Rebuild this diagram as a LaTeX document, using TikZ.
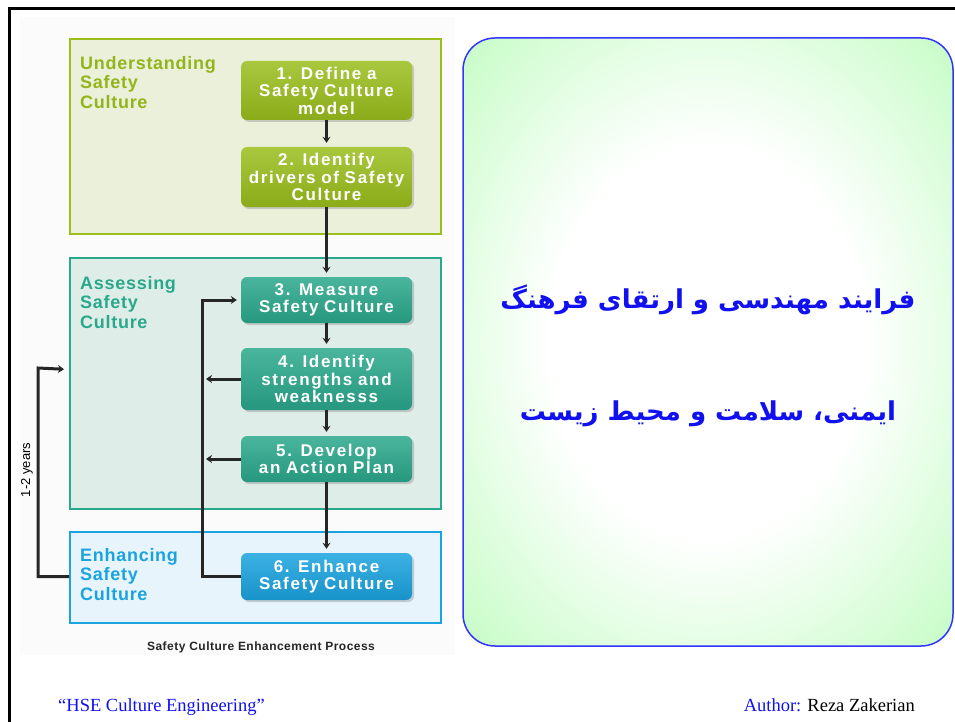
\documentclass[tikz,border=0pt]{standalone}
\usepackage{fontspec}
\setmainfont{Liberation Serif}
\setsansfont{Liberation Sans}
\newfontfamily\persianfont[Script=Arabic]{DejaVu Sans}
\newfontfamily\boxfont[LetterSpace=10]{Liberation Sans}
\newfontfamily\capfont[LetterSpace=4]{Liberation Sans}
\TeXXeTstate=1
\usetikzlibrary{arrows.meta,shadows}

\definecolor{ugreen}{HTML}{9BBE1C}
\definecolor{ugreenbg}{HTML}{EAF0DA}
\definecolor{ateal}{HTML}{2AA88C}
\definecolor{atealbg}{HTML}{DFEDE8}
\definecolor{eblue}{HTML}{1AA3DF}
\definecolor{ebluebg}{HTML}{E7F4FB}
\definecolor{panelblue}{HTML}{3333FF}
\definecolor{panelgreen}{HTML}{C4FCC4}
\definecolor{textblue}{HTML}{1010F0}

\pgfdeclareradialshading{panelglow}{\pgfpoint{0bp}{0bp}}{color(0bp)=(white); color(16bp)=(white); color(36bp)=(panelgreen); color(75bp)=(panelgreen)}

\tikzstyle{groupbox} = [anchor=north west, line width=2pt, minimum width=371pt, inner sep=0pt]
\tikzstyle{grouplabel} = [anchor=north west, align=left, inner sep=0pt, font=\capfont\bfseries\fontsize{18}{19.5}\selectfont]
\tikzstyle{stepbox} = [rounded corners=6pt, text width=167pt, inner sep=2pt, align=center, text=white, font=\boxfont\bfseries\fontsize{17}{17.5}\selectfont, drop shadow={shadow xshift=2pt, shadow yshift=-2pt, opacity=0.35}]
\tikzstyle{greenstep} = [stepbox, top color=ugreen!85!white, bottom color=ugreen!90!black]
\tikzstyle{tealstep} = [stepbox, top color=ateal!85!white, bottom color=ateal!90!black]
\tikzstyle{bluestep} = [stepbox, top color=eblue!85!white, bottom color=eblue!90!black]
\tikzstyle{flow} = [draw=black!85, line width=3pt, -{Stealth[length=6pt,width=8pt]}, shorten >=4pt]

\begin{document}
\begin{tikzpicture}[x=1pt,y=-1pt]
\useasboundingbox (0,0) rectangle (955,722);
\fill[black!1.5] (20,17) rectangle (455,655);
\draw[line width=3pt] (9,722) -- (9,9) -- (955,9);

% les trois phases
\node[groupbox, draw=ugreen, fill=ugreenbg, minimum height=195pt] (understand) at (69,38) {};
\node[groupbox, draw=ateal, fill=atealbg, minimum height=251pt] (assess) at (69,257) {};
\node[groupbox, draw=eblue, fill=ebluebg, minimum height=91pt] (enhance) at (69,531) {};
\node[grouplabel, text=ugreen!95!black] (ulabel) at (80,56) {Understanding\\Safety\\Culture};
\node[grouplabel, text=ateal] (alabel) at (80,276) {Assessing\\Safety\\Culture};
\node[grouplabel, text=eblue] (elabel) at (80,548) {Enhancing\\Safety\\Culture};

\node[greenstep, minimum height=59pt] (s1) at (326.5,90.5) {1. Define a\\Safety Culture\\model};
\node[greenstep, minimum height=60pt] (s2) at (326.5,177) {2. Identify\\drivers of Safety\\Culture};
\node[tealstep, minimum height=46pt] (s3) at (326.5,300) {3. Measure\\Safety Culture};
\node[tealstep, minimum height=62pt] (s4) at (326.5,379) {4. Identify\\strengths and\\weaknesss};
\node[tealstep, minimum height=46pt] (s5) at (326.5,459) {5. Develop\\an Action Plan};
\node[bluestep, minimum height=47pt] (s6) at (326.5,576.5) {6. Enhance\\Safety Culture};

\draw[flow] (s1) -- (s2);
\draw[flow] (s2) -- (s3);
\draw[flow] (s3) -- (s4);
\draw[flow] (s4) -- (s5);
\draw[flow] (s5) -- (s6);

\coordinate (loopx) at (202,300);
\draw[flow] (s6.west) -| (loopx) -- (s3.west);
\draw[flow] (s4.west) -- (loopx |- s4.west);
\draw[flow] (s5.west) -- (loopx |- s5.west);

\coordinate (yearx) at (38,368);
\draw[flow, shorten >=5pt] (enhance.west |- s6.west) -| (yearx) -- ([yshift=14pt]assess.west);
\node[rotate=90, font=\sffamily\fontsize{13}{15}\selectfont] (years) at (27,470) {1-2 years};

\node[font=\capfont\bfseries\fontsize{12}{14}\selectfont, text=black!85] (caption) at (261,647) {Safety Culture Enhancement Process};

% panneau de droite
\draw[panelblue, line width=1.5pt, rounded corners=32pt, shading=panelglow] (463,38) rectangle (953,646);
\node[text=textblue, font=\persianfont\bfseries\fontsize{26}{32}\selectfont] (title1) at (708,300) {\beginR فرایند مهندسی و ارتقای فرهنگ\endR};
\node[text=textblue, font=\persianfont\bfseries\fontsize{26}{32}\selectfont] (title2) at (708,414) {\beginR ایمنی، سلامت و محیط زیست\endR};

\node[anchor=base west, inner sep=0pt, text=textblue, font=\fontsize{18.5}{20}\selectfont] (footleft) at (58,711) {“HSE Culture Engineering”};
\node[anchor=base east, inner sep=0pt, font=\fontsize{18.5}{20}\selectfont] (footright) at (915,711) {\textcolor{textblue}{Author:} Reza Zakerian};
\end{tikzpicture}
\end{document}
